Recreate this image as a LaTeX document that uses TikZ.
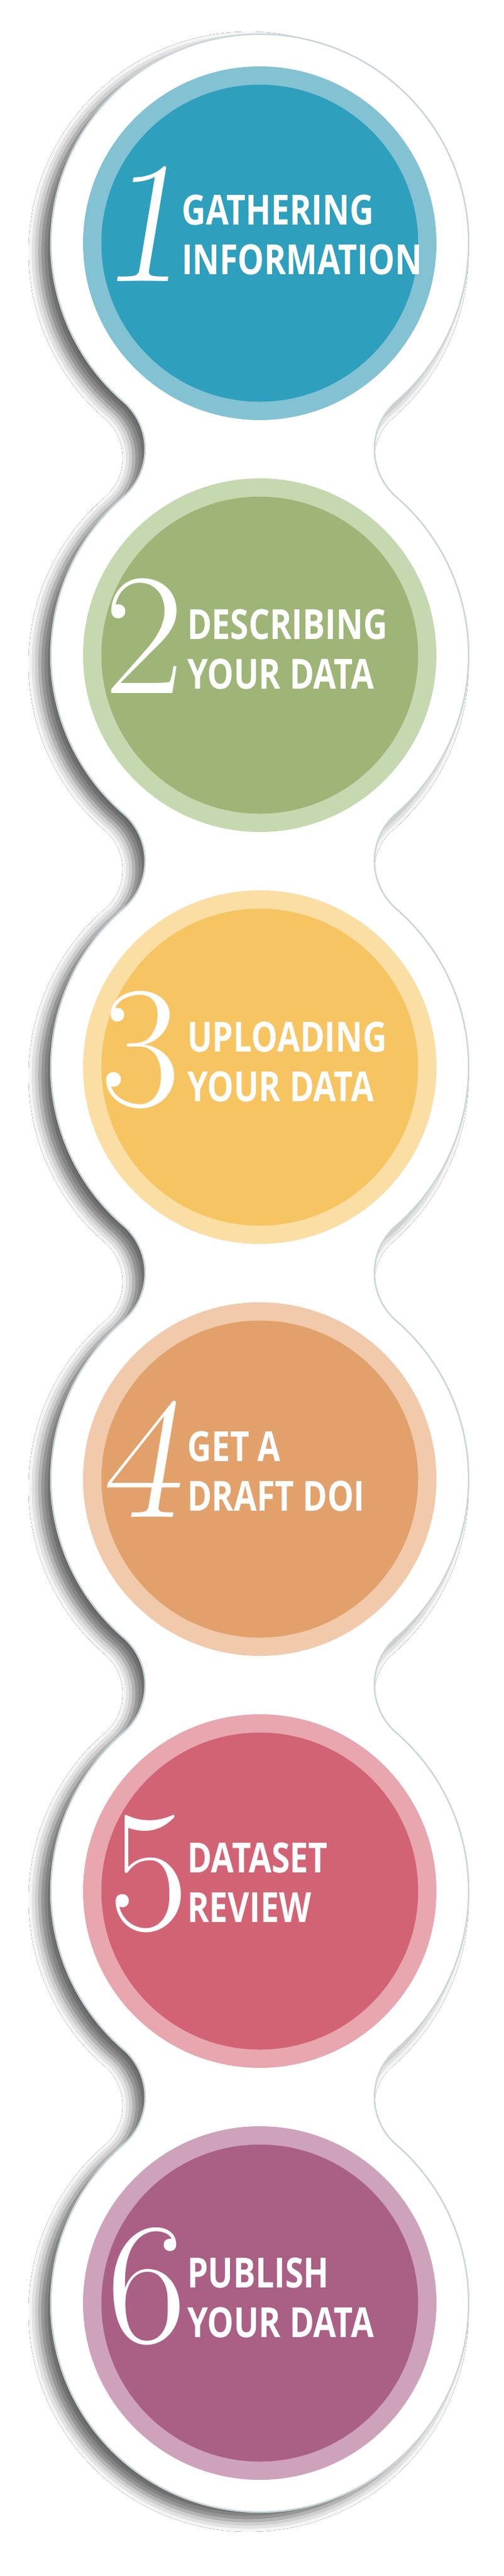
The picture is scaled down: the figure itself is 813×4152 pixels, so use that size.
\documentclass[tikz,border=0pt]{standalone}
\usepackage{fontspec}
\newfontfamily\labfont[FakeStretch=0.8]{Open Sans}
\usetikzlibrary{shadows.blur}
\definecolor{outline}{HTML}{C9D6DC}
\definecolor{ringA}{HTML}{82C2D3}\definecolor{coreA}{HTML}{2E9FBD}
\definecolor{ringB}{HTML}{C6D8B0}\definecolor{coreB}{HTML}{9EB577}
\definecolor{ringC}{HTML}{FADEA4}\definecolor{coreC}{HTML}{F7C462}
\definecolor{ringD}{HTML}{F1C9AB}\definecolor{coreD}{HTML}{E2A16B}
\definecolor{ringE}{HTML}{E8A6AF}\definecolor{coreE}{HTML}{D26375}
\definecolor{ringF}{HTML}{CEA2BB}\definecolor{coreF}{HTML}{AA6085}
\tikzset{
  ringdisc/.style={circle, draw=none, minimum size=570pt, inner sep=0pt},
  coredisc/.style={circle, draw=none, minimum size=511pt, inner sep=0pt},
  digit/.style={anchor=base, inner sep=0pt, text=white, font=\fontsize{280}{280}\selectfont},
  sdigit/.style={digit, font=\fontsize{280}{280}\selectfont\slshape},
  lab/.style={anchor=base west, inner sep=0pt, text=white, font=\labfont\bfseries\fontsize{67}{80}\selectfont},
  card/.style={fill=white, draw=outline, line width=2.5pt,
    blur shadow={shadow xshift=-18pt, shadow yshift=-14pt, shadow blur radius=18pt, shadow opacity=60}}
}
\begin{document}
\begin{tikzpicture}[x=1pt,y=1pt]
\useasboundingbox (0,0) rectangle (813,-4152);
\fill[white] (0,0) rectangle (813,-4152);
\def\R{337pt}\def\rf{101.58pt}
\path[card]
 (419,-392) ++(-49.2:\R)
 arc[start angle=-49.2,end angle=229.2,radius=\R]
 arc[start angle=49.2,end angle=-49.2,radius=\rf]
 arc[start angle=130.8,end angle=229.2,radius=\R]
 arc[start angle=49.2,end angle=-49.2,radius=\rf]
 arc[start angle=130.8,end angle=229.2,radius=\R]
 arc[start angle=49.2,end angle=-49.2,radius=\rf]
 arc[start angle=130.8,end angle=229.2,radius=\R]
 arc[start angle=49.2,end angle=-49.2,radius=\rf]
 arc[start angle=130.8,end angle=229.2,radius=\R]
 arc[start angle=49.2,end angle=-49.2,radius=\rf]
 arc[start angle=130.8,end angle=409.2,radius=\R]
 arc[start angle=229.2,end angle=130.8,radius=\rf]
 arc[start angle=-49.2,end angle=49.2,radius=\R]
 arc[start angle=229.2,end angle=130.8,radius=\rf]
 arc[start angle=-49.2,end angle=49.2,radius=\R]
 arc[start angle=229.2,end angle=130.8,radius=\rf]
 arc[start angle=-49.2,end angle=49.2,radius=\R]
 arc[start angle=229.2,end angle=130.8,radius=\rf]
 arc[start angle=-49.2,end angle=49.2,radius=\R]
 arc[start angle=229.2,end angle=130.8,radius=\rf]
 -- cycle;
% step 1
\node[ringdisc, fill=ringA] (r1) at (419,-392) {};
\node[coredisc, fill=coreA] (c1) at (r1) {};
\node[sdigit] (d1) at (228,-453) {1};
\node[lab] (a1) at (293,-362) {GATHERING};
\node[lab] (b1) at (293,-442) {INFORMATION};
% step 2
\node[ringdisc, fill=ringB] (r2) at (419,-1056) {};
\node[coredisc, fill=coreB] (c2) at (r2) {};
\node[digit] (d2) at (233,-1117) {2};
\node[lab] (a2) at (302,-1030) {DESCRIBING};
\node[lab] (b2) at (302,-1110) {YOUR DATA};
% step 3
\node[ringdisc, fill=ringC] (r3) at (419,-1720) {};
\node[coredisc, fill=coreC] (c3) at (r3) {};
\node[digit] (d3) at (227,-1782) {3};
\node[lab] (a3) at (302,-1695) {UPLOADING};
\node[lab] (b3) at (302,-1775) {YOUR DATA};
% step 4
\node[ringdisc, fill=ringD] (r4) at (419,-2384) {};
\node[coredisc, fill=coreD] (c4) at (r4) {};
\node[sdigit] (d4) at (224,-2445) {4};
\node[lab] (a4) at (302,-2355) {GET A};
\node[lab] (b4) at (302,-2435) {DRAFT DOI};
% step 5
\node[ringdisc, fill=ringE] (r5) at (419,-3048) {};
\node[coredisc, fill=coreE] (c5) at (r5) {};
\node[digit] (d5) at (240,-3110) {5};
\node[lab] (a5) at (302,-3018) {DATASET};
\node[lab] (b5) at (302,-3098) {REVIEW};
% step 6
\node[ringdisc, fill=ringF] (r6) at (419,-3712) {};
\node[coredisc, fill=coreF] (c6) at (r6) {};
\node[digit] (d6) at (237,-3775) {6};
\node[lab] (a6) at (302,-3687) {PUBLISH};
\node[lab] (b6) at (302,-3767) {YOUR DATA};
\end{tikzpicture}
\end{document}
